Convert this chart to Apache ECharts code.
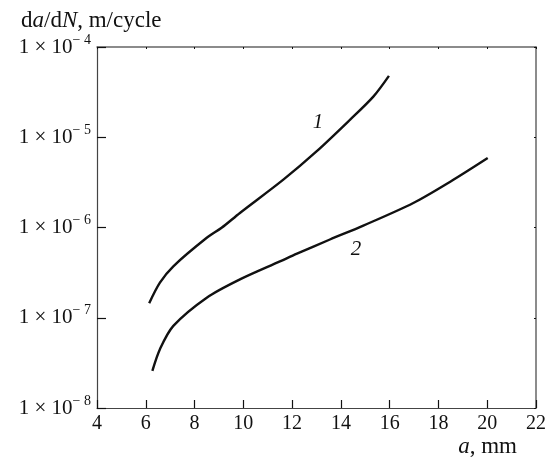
<!DOCTYPE html>
<html>
<head>
<meta charset="utf-8">
<script src="https://cdn.jsdelivr.net/npm/echarts@6/dist/echarts.min.js"></script>
<style>
  html, body { margin: 0; padding: 0; background: #fff; }
  #chart { width: 552px; height: 458px; }
</style>
</head>
<body>
<div id="chart"></div>
<script>
// crack length a (mm) vs growth rate da/dN (m/cycle)
const curve1A = [6.14, 6.58, 7.13, 8.5, 9.11, 9.86, 11.64, 13.0, 14.37, 15.33, 15.97]
const curve1V = [1.45e-7, 2.45e-7, 3.72e-7, 7.69e-7, 9.93e-7, 1.45e-6, 3.39e-6, 6.97e-6, 1.56e-5, 2.82e-5, 4.79e-5]
const curve2A = [6.27, 6.58, 7.13, 8.5, 9.86, 11.5, 12.2, 13.55, 14.92, 16.97, 18.5, 20.02]
const curve2V = [2.58e-8, 4.49e-8, 8.13e-8, 1.67e-7, 2.66e-7, 4.21e-7, 5.13e-7, 7.36e-7, 1.05e-6, 1.87e-6, 3.24e-6, 5.89e-6]
const xTicks = [4, 6, 8, 10, 12, 14, 16, 18, 20, 22]
const yMin = 1e-8, yMax = 1e-4
const curveLabels = ['1', '2']
const labelPos = [[13.06, 1.45e-5], [14.62, 5.7e-7]]

const serif = '"Liberation Serif", "DejaVu Serif", serif'
const zip = (a, v) => a.map((x, i) => [x, v[i]])

const myChart = echarts.init(document.getElementById('chart'))

const curveSeries = (name, data, lbl) => ({
  name: name,
  type: 'line',
  smooth: 0.3,
  showSymbol: false,
  data: data,
  lineStyle: { color: '#111', width: 2.4 },
  itemStyle: { color: '#111' },
  markPoint: {
    symbol: 'circle',
    symbolSize: 0,
    data: [{ coord: lbl.coord, value: lbl.text }],
    label: {
      show: true,
      formatter: lbl.text,
      color: '#111',
      fontFamily: serif,
      fontStyle: 'italic',
      fontSize: 21
    }
  }
})

const option = {
  animation: false,
  grid: { left: 97, right: 16, top: 47, bottom: 49 },
  title: {
    text: 'd{i|a}/d{i|N}, m/cycle',
    left: 16,
    top: 4,
    textStyle: {
      color: '#111',
      fontFamily: serif,
      fontSize: 23,
      fontWeight: 'normal',
      rich: { i: { fontStyle: 'italic', fontFamily: serif, fontSize: 23, color: '#111' } }
    }
  },
  xAxis: [
    {
      type: 'value',
      min: xTicks[0],
      max: xTicks[xTicks.length - 1],
      interval: 2,
      name: '{i|a}, mm',
      nameLocation: 'end',
      nameGap: 0,
      nameTextStyle: {
        color: '#111',
        fontFamily: serif,
        fontSize: 23,
        align: 'right',
        verticalAlign: 'top',
        padding: [27, 19, 0, 0],
        rich: { i: { fontStyle: 'italic', fontFamily: serif, fontSize: 23, color: '#111' } }
      },
      axisLine: { lineStyle: { color: '#444', width: 1.2 } },
      axisTick: { inside: true, length: 8, lineStyle: { color: '#111', width: 1.2 } },
      axisLabel: { color: '#111', fontFamily: serif, fontSize: 20, margin: 6 },
      splitLine: { show: false }
    },
    {
      type: 'value',
      position: 'top',
      min: xTicks[0],
      max: xTicks[xTicks.length - 1],
      interval: 2,
      axisLine: { show: true, lineStyle: { color: '#666', width: 1.5 } },
      axisTick: { inside: true, length: 2, lineStyle: { color: '#111' } },
      axisLabel: { show: false },
      splitLine: { show: false }
    }
  ],
  yAxis: [
    {
      type: 'log',
      logBase: 10,
      min: yMin,
      max: yMax,
      axisLine: { show: true, lineStyle: { color: '#444', width: 1.2 } },
      axisTick: { inside: true, length: 9, lineStyle: { color: '#111', width: 1.2 } },
      minorTick: { show: false },
      axisLabel: {
        color: '#111',
        fontFamily: serif,
        fontSize: 21,
        margin: 6,
        formatter: v => '1 × 10{s|− ' + Math.round(-Math.log10(v)) + '}',
        rich: { s: { fontFamily: serif, fontSize: 14, color: '#111', verticalAlign: 'bottom', padding: [0, 0, 14, 0] } }
      },
      splitLine: { show: false }
    },
    {
      type: 'log',
      logBase: 10,
      position: 'right',
      min: yMin,
      max: yMax,
      axisLine: { show: true, lineStyle: { color: '#666', width: 1.5 } },
      axisTick: { inside: true, length: 2, lineStyle: { color: '#111' } },
      axisLabel: { show: false },
      splitLine: { show: false }
    }
  ],
  series: [
    curveSeries('1', zip(curve1A, curve1V), { coord: labelPos[0], text: curveLabels[0] }),
    curveSeries('2', zip(curve2A, curve2V), { coord: labelPos[1], text: curveLabels[1] })
  ]
}

option && myChart.setOption(option)
</script>
</body>
</html>
